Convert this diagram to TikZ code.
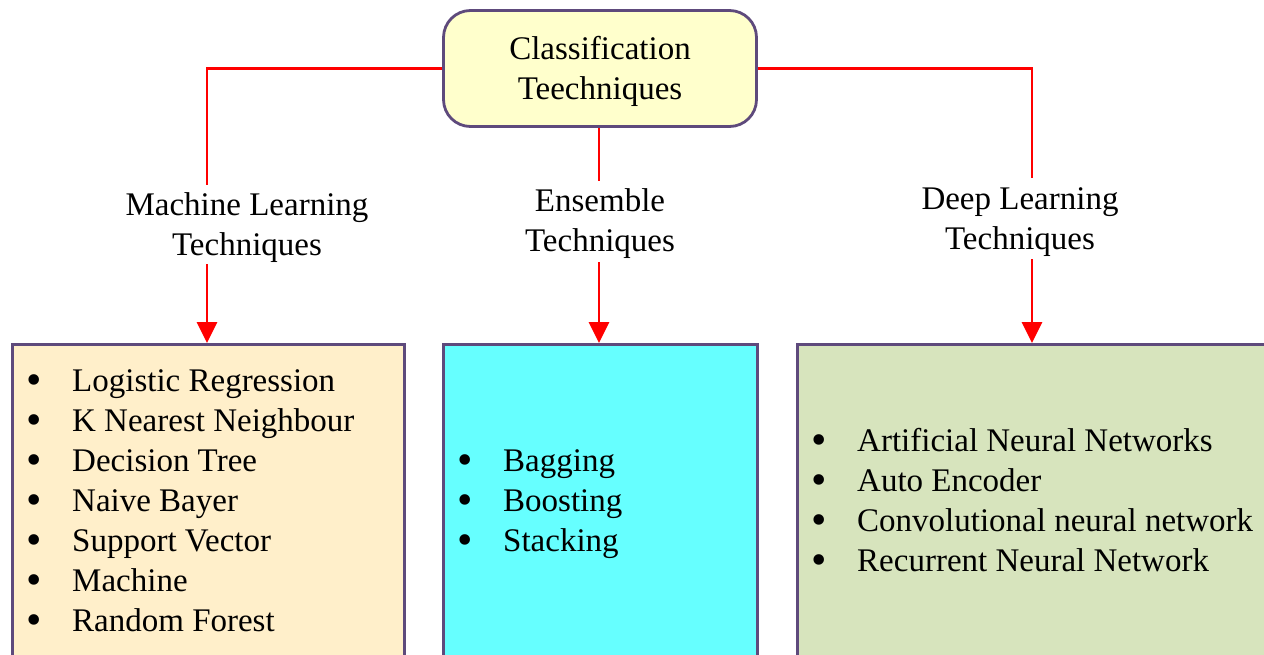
\documentclass[tikz,border=0pt]{standalone}
\usepackage{fontspec}
\setmainfont{Liberation Serif}
\usetikzlibrary{arrows.meta}
\definecolor{edgepurple}{HTML}{5E4A7C}
\definecolor{rootfill}{HTML}{FFFFCC}
\definecolor{mlfill}{HTML}{FFEFCA}
\definecolor{ensfill}{HTML}{66FFFF}
\definecolor{dlfill}{HTML}{D7E4BD}
\definecolor{linkred}{HTML}{FF0000}
\newcommand{\bodyfont}{\fontsize{33}{40}\selectfont}
\tikzset{
  rootbox/.style={draw=edgepurple, line width=2.8pt, fill=rootfill, rounded corners=27pt,
    minimum width=313pt, minimum height=116pt, font=\bodyfont, inner sep=0pt},
  groupbox/.style={draw=edgepurple, line width=2.8pt, minimum height=314pt, anchor=north west, inner sep=0pt},
  branchlabel/.style={align=center, font=\bodyfont, inner sep=0pt},
  itemlist/.style={anchor=west, inner sep=0pt, font=\bodyfont},
  link/.style={draw=linkred, line width=2.8pt},
  feed/.style={link, -{Triangle[length=21pt, width=20pt]}}
}
\newcommand{\bigdot}{\raisebox{-3.5pt}{\fontsize{44}{40}\selectfont\textbullet}}
\newcommand{\bulletrow}[1]{\makebox[45pt][l]{\hspace{-1pt}\bigdot}#1\\}
\begin{document}
\begin{tikzpicture}[x=1pt, y=-1pt]
  \useasboundingbox (0,0) rectangle (1264,654);
  \clip (0,0) rectangle (1264,654);

  % root node
  \node[rootbox] (root) at (600,68.5) {\raisebox{-9pt}[0pt][0pt]{\begin{tabular}{@{}c@{}}Classification\\Teechniques\end{tabular}}};

  % branch labels
  \node[branchlabel] (mllab)  at (247,228) {Machine Learning\\Techniques};
  \node[branchlabel] (enslab) at (600,224) {Ensemble\\Techniques};
  \node[branchlabel] (dllab)  at (1020,222) {Deep Learning\\Techniques};

  % group boxes
  \node[groupbox, fill=mlfill,  minimum width=392pt] (mlbox)  at (11,343) {};
  \node[groupbox, fill=ensfill, minimum width=314pt] (ensbox) at (442,343) {};
  \node[groupbox, fill=dlfill,  minimum width=500pt] (dlbox)  at (796,343) {};

  % item lists
  \node[itemlist] (mllist) at ([xshift=16pt, yshift=-2pt]mlbox.west) {%
    \begin{tabular}{@{}l@{}}
      \bulletrow{Logistic Regression}
      \bulletrow{K Nearest Neighbour}
      \bulletrow{Decision Tree}
      \bulletrow{Naive Bayer}
      \bulletrow{Support Vector}
      \bulletrow{Machine}
      \bulletrow{Random Forest}
    \end{tabular}};
  \node[itemlist] (enslist) at ([xshift=16pt, yshift=-2pt]ensbox.west) {%
    \begin{tabular}{@{}l@{}}
      \bulletrow{Bagging}
      \bulletrow{Boosting}
      \bulletrow{Stacking}
    \end{tabular}};
  \node[itemlist] (dllist) at ([xshift=16pt, yshift=-2pt]dlbox.west) {%
    \begin{tabular}{@{}l@{}}
      \bulletrow{Artificial Neural Networks}
      \bulletrow{Auto Encoder}
      \bulletrow{Convolutional neural network}
      \bulletrow{Recurrent Neural Network}
    \end{tabular}};

  % connector end points around the labels
  \coordinate (mlin)   at (207,185);
  \coordinate (mlout)  at (207,264);
  \coordinate (ensin)  at (599,181);
  \coordinate (ensout) at (599,262);
  \coordinate (dlin)   at (1032,178);
  \coordinate (dlout)  at (1032,259);

  % connectors
  \draw[link] (root.west) -| (mlin);
  \draw[link] (root.south -| ensin) -- (ensin);
  \draw[link] (root.east) -| (dlin);
  \draw[feed] (mlout)  -- (mlout |- mlbox.north);
  \draw[feed] (ensout) -- (ensout |- ensbox.north);
  \draw[feed] (dlout)  -- (dlout |- dlbox.north);
\end{tikzpicture}
\end{document}
